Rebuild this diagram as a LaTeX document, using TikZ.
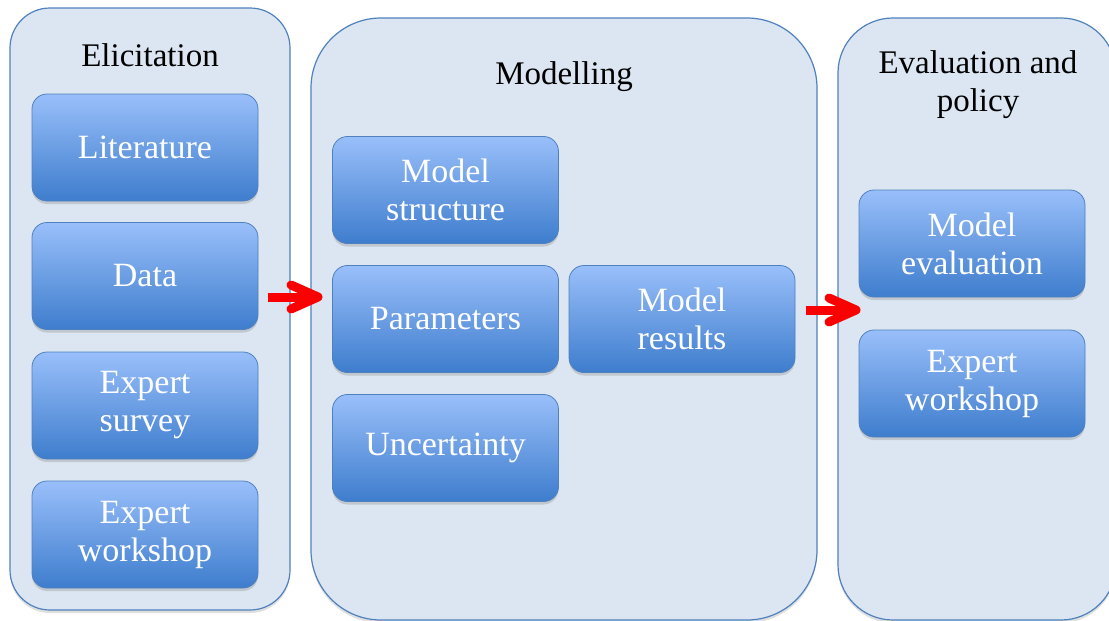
\documentclass[tikz,border=0pt]{standalone}
\usepackage{fontspec}
\setmainfont{Liberation Serif}
\usetikzlibrary{shadows}
\definecolor{panelfill}{RGB}{220,230,242}
\definecolor{panelline}{RGB}{79,129,189}
\definecolor{boxtop}{RGB}{153,191,250}
\definecolor{boxmid}{RGB}{118,162,228}
\definecolor{boxbot}{RGB}{62,125,205}
\definecolor{boxline}{RGB}{78,128,190}
\definecolor{arrowred}{RGB}{250,0,0}
\begin{document}
\begin{tikzpicture}[x=1pt,y=-1pt,
  panel/.style={draw=panelline, line width=1.2pt, fill=panelfill, rounded corners=#1,
    drop shadow={shadow xshift=0pt, shadow yshift=-3pt, opacity=0.25}},
  box/.style={draw=boxline, line width=0.8pt, rounded corners=15pt,
    top color=boxtop, middle color=boxmid, bottom color=boxbot,
    minimum width=226pt, minimum height=107pt, text=white, align=center,
    font=\fontsize{34}{38}\selectfont,
    drop shadow={shadow xshift=0pt, shadow yshift=-3pt, opacity=0.3}},
  title/.style={align=center, text=black, font=\fontsize{33}{38}\selectfont},
  shaft/.style={draw=arrowred, line width=9pt},
  barb/.style={draw=arrowred, line width=9pt, line cap=round, line join=round}
]
\useasboundingbox (0,0) rectangle (1109,621);
\clip (0,0) rectangle (1109,621);
\fill[white] (0,0) rectangle (1109,621);

% panels
\node[panel=40pt, minimum width=280pt, minimum height=602pt] (elic) at (150,309) {};
\node[panel=70pt, minimum width=506pt, minimum height=602pt] (model) at (564,319) {};
\node[panel=55pt, minimum width=278pt, minimum height=602pt] (evalp) at (977,319) {};

% titles
\node[title] (telic) at (150,55) {Elicitation};
\node[title] (tmodel) at (564,77) {Modelling};
\node[title] (teval) at (978,85) {Evaluation and\\policy};

% elicitation boxes
\node[box] (lit) at (145,147.5) {Literature};
\node[box] (data) at (145,276) {Data};
\node[box] (survey) at (145,405.5) {Expert\\survey};
\node[box] (ews1) at (145,534.5) {Expert\\workshop};

% modelling boxes
\node[box] (struct) at (445.5,190) {Model\\structure};
\node[box] (params) at (445.5,319) {Parameters};
\node[box] (uncert) at (445.5,448) {Uncertainty};
\node[box] (results) at (682,319) {Model\\results};

% evaluation boxes
\node[box] (meval) at (972,243.5) {Model\\evaluation};
\node[box] (ews2) at (972,383.5) {Expert\\workshop};

% arrows
\coordinate (a1s) at (268,297);
\coordinate (a1e) at (318,297);
\coordinate (a2s) at (806,310);
\coordinate (a2e) at (856,310);
\draw[shaft] (a1s) -- ([xshift=-3pt]a1e);
\draw[barb] ([xshift=-27pt,yshift=12pt]a1e) -- (a1e) -- ([xshift=-27pt,yshift=-12pt]a1e);
\draw[shaft] (a2s) -- ([xshift=-3pt]a2e);
\draw[barb] ([xshift=-27pt,yshift=12pt]a2e) -- (a2e) -- ([xshift=-27pt,yshift=-12pt]a2e);
\end{tikzpicture}
\end{document}
